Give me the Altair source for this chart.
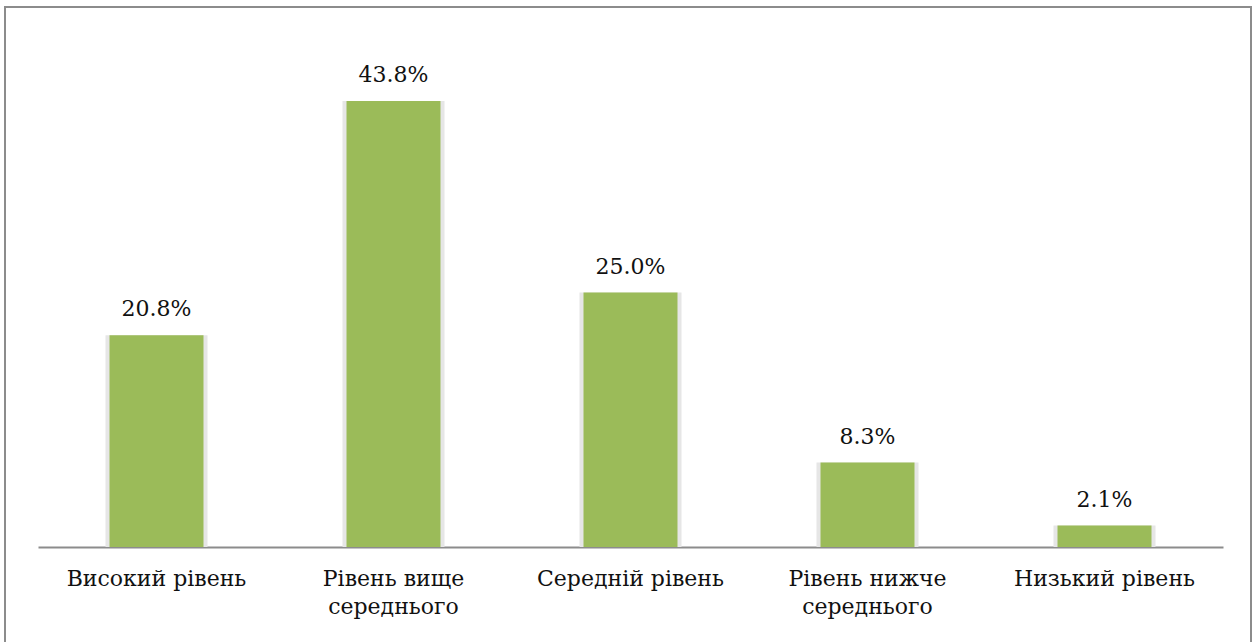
import altair as alt
import pandas as pd

categories = ["Високий рівень", "Рівень вище|середнього", "Середній рівень", "Рівень нижче|середнього", "Низький рівень"]
values = [0.208, 0.438, 0.250, 0.083, 0.021]
labels = ["20.8%", "43.8%", "25.0%", "8.3%", "2.1%"]

df = pd.DataFrame({"cat": categories, "val": values, "lab": labels})

W, H = 1185, 509
FONT = "DejaVu Serif"

x = alt.X("cat:N", sort=categories, title=None,
          scale=alt.Scale(paddingInner=0.6, paddingOuter=0.3),
          axis=alt.Axis(labelAngle=0, labelExpr="split(datum.label, '|')",
                        labelFont=FONT, labelFontSize=22, labelColor="#111",
                        labelPadding=21, labelLineHeight=28, labelLimit=0, ticks=False,
                        domainColor="#8c8c8c", domainWidth=2))
y = alt.Y("val:Q", scale=alt.Scale(domain=[0, 0.5]), axis=None)

base = alt.Chart(df)

shadow = base.mark_bar(color="#e6e6e6", size=102).encode(x=x, y=y)
bars = base.mark_bar(color="#9BBB59", size=94).encode(x=x, y=y)
text = base.mark_text(baseline="bottom", dy=-14, font=FONT, fontSize=22, color="#111").encode(
    x=x, y=y, text="lab:N")

border = alt.Chart(pd.DataFrame({"a": [0]})).mark_rect(
    fill=None, stroke="#8c8c8c", strokeWidth=2
).encode(x=alt.value(-33), x2=alt.value(1213), y=alt.value(-31), y2=alt.value(620))

chart = alt.layer(border, shadow, bars, text).properties(
    width=W, height=H,
    autosize=alt.AutoSizeParams(type="none"),
    padding={"left": 38, "top": 38, "right": 30, "bottom": 95},
).configure(background="white").configure_view(strokeWidth=0)

chart.save("out.html", embed_options={"renderer": "svg", "actions": False})
